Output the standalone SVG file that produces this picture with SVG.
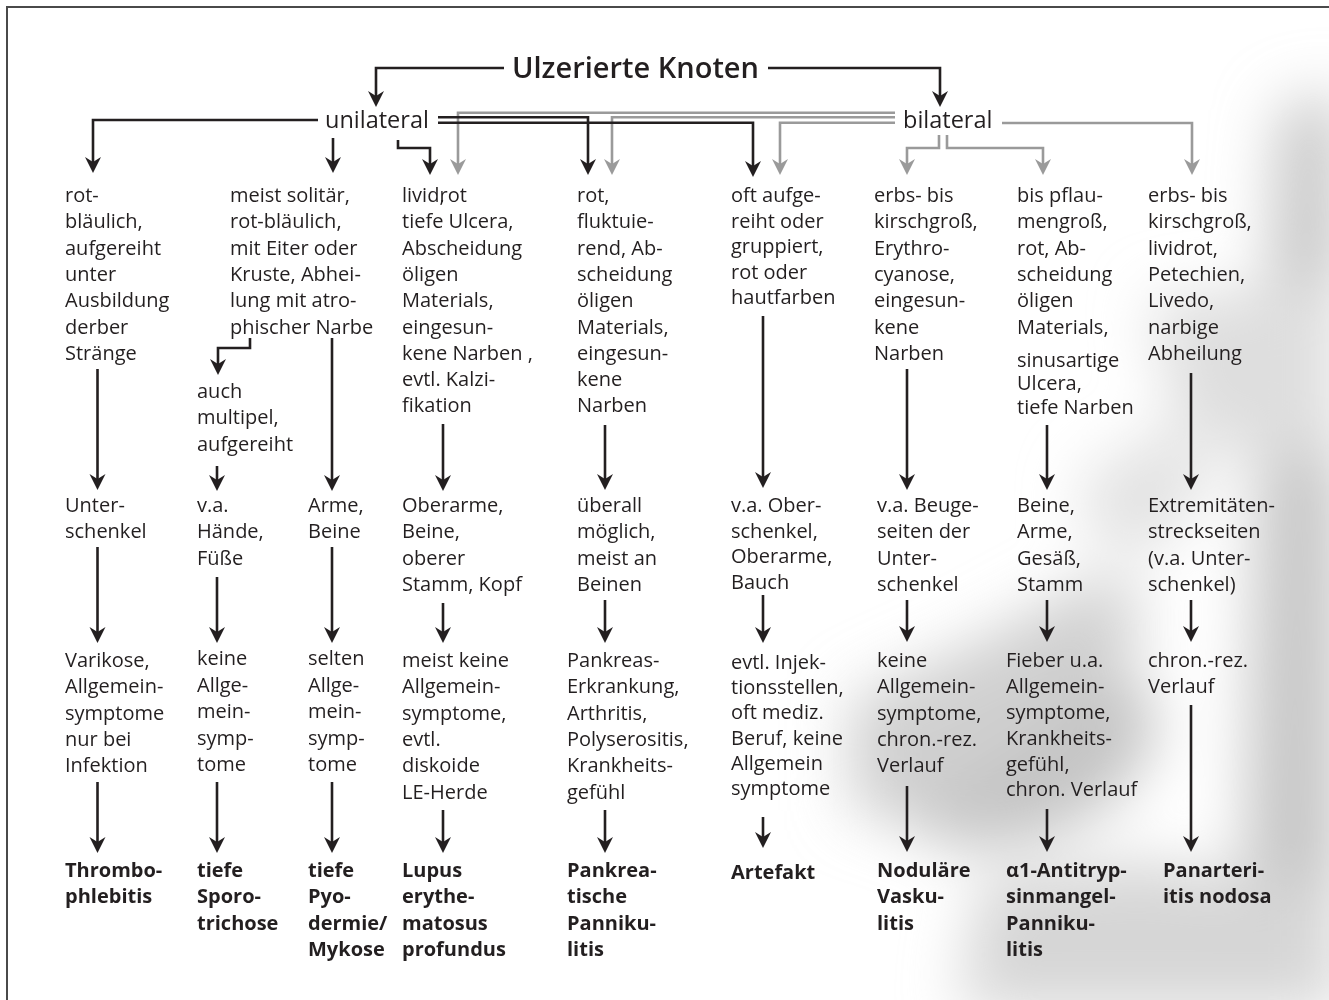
<svg xmlns="http://www.w3.org/2000/svg" width="1329" height="1000" viewBox="0 0 1329 1000">
<style>
.t{font-family:"Open Sans","Liberation Sans",sans-serif;font-size:20px;fill:#231f20}
.b{font-weight:bold}
.h{font-size:29px;font-weight:600}
.m{font-size:23.5px}
.k{fill:none;stroke:#231f20;stroke-width:2.6}
.g{fill:none;stroke:#9a9a9a;stroke-width:2.6}
</style>
<defs>
<marker id="ak" markerUnits="userSpaceOnUse" viewBox="-8 -10 20 20" refX="0" refY="0" markerWidth="20" markerHeight="20" orient="auto" overflow="visible">
<path d="M10,0 L-6,-8 L-1,0 L-6,8 Z" fill="#231f20"/>
</marker>
<marker id="ag" markerUnits="userSpaceOnUse" viewBox="-8 -10 20 20" refX="0" refY="0" markerWidth="20" markerHeight="20" orient="auto" overflow="visible">
<path d="M10,0 L-6,-8 L-1,0 L-6,8 Z" fill="#9a9a9a"/>
</marker>
<filter id="blur" x="-50%" y="-50%" width="200%" height="200%"><feGaussianBlur stdDeviation="30"/></filter>
</defs>
<rect width="1329" height="1000" fill="#ffffff"/>
<g id="shadow" filter="url(#blur)">
<polygon points="1280,110 1340,90 1340,1010 1240,1010 1250,700 1262,400" fill="#c6c6c6"/>
<polygon points="1150,300 1340,280 1340,460 1180,440" fill="#dedede"/>
<ellipse cx="1020" cy="750" rx="140" ry="90" fill="#c4c4c4" transform="rotate(-20 1020 750)"/>
<polygon points="850,700 960,650 1110,570 1150,620 1060,720 900,820 850,810" fill="#d0d0d0"/>
<polygon points="1080,480 1160,430 1220,470 1150,560 1090,540" fill="#e2e2e2"/>
<polygon points="980,880 1140,860 1340,890 1340,1010 960,1010" fill="#d6d6d6"/>
</g>
<path d="M7,1000 V7 H1329" fill="none" stroke="#4a4a4a" stroke-width="2"/>

<g id="connectors">
<g class="k">
<path d="M504,68 H376 V97" marker-end="url(#ak)"/>
<path d="M768,68 H940 V97" marker-end="url(#ak)"/>
<path d="M318,120 H93 V163" marker-end="url(#ak)"/>
<path d="M333,138 V163" marker-end="url(#ak)"/>
<path d="M398,140 V148 H430 V165" marker-end="url(#ak)"/>
</g>
<g class="g">
<path d="M895,112.7 H458 V165" marker-end="url(#ag)"/>
<path d="M895,117.3 H612 V165" marker-end="url(#ag)"/>
<path d="M895,122.7 H780 V165" marker-end="url(#ag)"/>
<path d="M1002,123 H1192 V165" marker-end="url(#ag)"/>
<path d="M939,135 V148 H907 V165" marker-end="url(#ag)"/>
<path d="M947,135 V148 H1043 V165" marker-end="url(#ag)"/>
</g>
<g class="k">
<path d="M438,117.3 H588 V165" marker-end="url(#ak)"/>
<path d="M438,122.7 H753 V167" marker-end="url(#ak)"/>
<path d="M97.5,369 V480" marker-end="url(#ak)"/>
<path d="M97.5,547 V633" marker-end="url(#ak)"/>
<path d="M97.5,782 V843" marker-end="url(#ak)"/>
<path d="M250,338 V348 H218 V365" marker-end="url(#ak)"/>
<path d="M217,466 V481" marker-end="url(#ak)"/>
<path d="M217,577 V633" marker-end="url(#ak)"/>
<path d="M217,782 V843" marker-end="url(#ak)"/>
<path d="M332,338 V481" marker-end="url(#ak)"/>
<path d="M332,547 V633" marker-end="url(#ak)"/>
<path d="M332,782 V843" marker-end="url(#ak)"/>
<path d="M443,424 V481" marker-end="url(#ak)"/>
<path d="M443,603 V633" marker-end="url(#ak)"/>
<path d="M443,810 V843" marker-end="url(#ak)"/>
<path d="M605,425 V480" marker-end="url(#ak)"/>
<path d="M605,600 V633" marker-end="url(#ak)"/>
<path d="M605,810 V843" marker-end="url(#ak)"/>
<path d="M763,316 V478" marker-end="url(#ak)"/>
<path d="M763,595 V633" marker-end="url(#ak)"/>
<path d="M763,817 V838" marker-end="url(#ak)"/>
<path d="M907,369 V480" marker-end="url(#ak)"/>
<path d="M907,600 V632" marker-end="url(#ak)"/>
<path d="M907,786 V842" marker-end="url(#ak)"/>
<path d="M1047,425 V480" marker-end="url(#ak)"/>
<path d="M1047,600 V632" marker-end="url(#ak)"/>
<path d="M1047,809 V842" marker-end="url(#ak)"/>
<path d="M1191,373 V480" marker-end="url(#ak)"/>
<path d="M1191,600 V632" marker-end="url(#ak)"/>
<path d="M1191,705 V842" marker-end="url(#ak)"/>
</g>
</g>

<g id="title"><text class="t h" x="512" y="78">Ulzerierte Knoten</text></g>
<g id="unilateral"><text class="t m" x="325" y="128">unilateral</text></g>
<g id="bilateral"><text class="t m" x="903" y="128">bilateral</text></g>

<g id="c1r1"><text class="t" x="65" y="202"><tspan x="65">rot-</tspan><tspan x="65" dy="26.3">bläulich,</tspan><tspan x="65" dy="26.3">aufgereiht</tspan><tspan x="65" dy="26.3">unter</tspan><tspan x="65" dy="26.3">Ausbildung</tspan><tspan x="65" dy="26.3">derber</tspan><tspan x="65" dy="26.3">Stränge</tspan></text></g>
<g id="c2r1"><text class="t" x="230" y="202"><tspan x="230">meist solitär,</tspan><tspan x="230" dy="26.3">rot-bläulich,</tspan><tspan x="230" dy="26.3">mit Eiter oder</tspan><tspan x="230" dy="26.3">Kruste, Abhei-</tspan><tspan x="230" dy="26.3">lung mit atro-</tspan><tspan x="230" dy="26.3">phischer Narbe</tspan></text></g>
<g id="c2a"><text class="t" x="197" y="398"><tspan x="197">auch</tspan><tspan x="197" dy="26.3">multipel,</tspan><tspan x="197" dy="26.3">aufgereiht</tspan></text></g>
<g id="c4r1"><text class="t" x="402" y="202"><tspan x="402">livid</tspan><tspan>,</tspan><tspan dx="-5">rot</tspan><tspan x="402" dy="26.3">tiefe Ulcera,</tspan><tspan x="402" dy="26.3">Abscheidung</tspan><tspan x="402" dy="26.3">öligen</tspan><tspan x="402" dy="26.3">Materials,</tspan><tspan x="402" dy="26.3">eingesun-</tspan><tspan x="402" dy="26.3">kene Narben ,</tspan><tspan x="402" dy="26.3">evtl. Kalzi-</tspan><tspan x="402" dy="26.3">fikation</tspan></text></g>
<g id="c5r1"><text class="t" x="577" y="202"><tspan x="577">rot,</tspan><tspan x="577" dy="26.3">fluktuie-</tspan><tspan x="577" dy="26.3">rend, Ab-</tspan><tspan x="577" dy="26.3">scheidung</tspan><tspan x="577" dy="26.3">öligen</tspan><tspan x="577" dy="26.3">Materials,</tspan><tspan x="577" dy="26.3">eingesun-</tspan><tspan x="577" dy="26.3">kene</tspan><tspan x="577" dy="26.3">Narben</tspan></text></g>
<g id="c6r1"><text class="t" x="731" y="202"><tspan x="731">oft aufge-</tspan><tspan x="731" dy="25.5">reiht oder</tspan><tspan x="731" dy="25.5">gruppiert,</tspan><tspan x="731" dy="25.5">rot oder</tspan><tspan x="731" dy="25.5">hautfarben</tspan></text></g>
<g id="c7r1"><text class="t" x="874" y="202"><tspan x="874">erbs- bis</tspan><tspan x="874" dy="26.3">kirschgroß,</tspan><tspan x="874" dy="26.3">Erythro-</tspan><tspan x="874" dy="26.3">cyanose,</tspan><tspan x="874" dy="26.3">eingesun-</tspan><tspan x="874" dy="26.3">kene</tspan><tspan x="874" dy="26.3">Narben</tspan></text></g>
<g id="c8r1"><text class="t" x="1017" y="202"><tspan x="1017">bis pflau-</tspan><tspan x="1017" dy="26.3">mengroß,</tspan><tspan x="1017" dy="26.3">rot, Ab-</tspan><tspan x="1017" dy="26.3">scheidung</tspan><tspan x="1017" dy="26.3">öligen</tspan><tspan x="1017" dy="26.3">Materials,</tspan><tspan x="1017" y="367">sinusartige</tspan><tspan x="1017" y="390">Ulcera,</tspan><tspan x="1017" y="414">tiefe Narben</tspan></text></g>
<g id="c9r1"><text class="t" x="1148" y="202"><tspan x="1148">erbs- bis</tspan><tspan x="1148" dy="26.3">kirschgroß,</tspan><tspan x="1148" dy="26.3">lividrot,</tspan><tspan x="1148" dy="26.3">Petechien,</tspan><tspan x="1148" dy="26.3">Livedo,</tspan><tspan x="1148" dy="26.3">narbige</tspan><tspan x="1148" dy="26.3">Abheilung</tspan></text></g>

<g id="c1r2"><text class="t" x="65" y="512"><tspan x="65">Unter-</tspan><tspan x="65" dy="26.3">schenkel</tspan></text></g>
<g id="c2r2"><text class="t" x="197" y="512"><tspan x="197">v.a.</tspan><tspan x="197" dy="26.3">Hände,</tspan><tspan x="197" dy="26.3">Füße</tspan></text></g>
<g id="c3r2"><text class="t" x="308" y="512"><tspan x="308">Arme,</tspan><tspan x="308" dy="26.3">Beine</tspan></text></g>
<g id="c4r2"><text class="t" x="402" y="512"><tspan x="402">Oberarme,</tspan><tspan x="402" dy="26.3">Beine,</tspan><tspan x="402" dy="26.3">oberer</tspan><tspan x="402" dy="26.3">Stamm, Kopf</tspan></text></g>
<g id="c5r2"><text class="t" x="577" y="512"><tspan x="577">überall</tspan><tspan x="577" dy="26.3">möglich,</tspan><tspan x="577" dy="26.3">meist an</tspan><tspan x="577" dy="26.3">Beinen</tspan></text></g>
<g id="c6r2"><text class="t" x="731" y="512"><tspan x="731">v.a. Ober-</tspan><tspan x="731" dy="25.5">schenkel,</tspan><tspan x="731" dy="25.5">Oberarme,</tspan><tspan x="731" dy="25.5">Bauch</tspan></text></g>
<g id="c7r2"><text class="t" x="877" y="512"><tspan x="877">v.a. Beuge-</tspan><tspan x="877" dy="26.3">seiten der</tspan><tspan x="877" dy="26.3">Unter-</tspan><tspan x="877" dy="26.3">schenkel</tspan></text></g>
<g id="c8r2"><text class="t" x="1017" y="512"><tspan x="1017">Beine,</tspan><tspan x="1017" dy="26.3">Arme,</tspan><tspan x="1017" dy="26.3">Gesäß,</tspan><tspan x="1017" dy="26.3">Stamm</tspan></text></g>
<g id="c9r2"><text class="t" x="1148" y="512"><tspan x="1148">Extremitäten-</tspan><tspan x="1148" dy="26.3">streckseiten</tspan><tspan x="1148" dy="26.3">(v.a. Unter-</tspan><tspan x="1148" dy="26.3">schenkel)</tspan></text></g>

<g id="c1r3"><text class="t" x="65" y="667"><tspan x="65">Varikose,</tspan><tspan x="65" dy="26.3">Allgemein-</tspan><tspan x="65" dy="26.3">symptome</tspan><tspan x="65" dy="26.3">nur bei</tspan><tspan x="65" dy="26.3">Infektion</tspan></text></g>
<g id="c2r3"><text class="t" x="197" y="665"><tspan x="197">keine</tspan><tspan x="197" dy="26.5">Allge-</tspan><tspan x="197" dy="26.5">mein-</tspan><tspan x="197" dy="26.5">symp-</tspan><tspan x="197" dy="26.5">tome</tspan></text></g>
<g id="c3r3"><text class="t" x="308" y="665"><tspan x="308">selten</tspan><tspan x="308" dy="26.5">Allge-</tspan><tspan x="308" dy="26.5">mein-</tspan><tspan x="308" dy="26.5">symp-</tspan><tspan x="308" dy="26.5">tome</tspan></text></g>
<g id="c4r3"><text class="t" x="402" y="667"><tspan x="402">meist keine</tspan><tspan x="402" dy="26.3">Allgemein-</tspan><tspan x="402" dy="26.3">symptome,</tspan><tspan x="402" dy="26.3">evtl.</tspan><tspan x="402" dy="26.3">diskoide</tspan><tspan x="402" dy="26.3">LE-Herde</tspan></text></g>
<g id="c5r3"><text class="t" x="567" y="667"><tspan x="567">Pankreas-</tspan><tspan x="567" dy="26.3">Erkrankung,</tspan><tspan x="567" dy="26.3">Arthritis,</tspan><tspan x="567" dy="26.3">Polyserositis,</tspan><tspan x="567" dy="26.3">Krankheits-</tspan><tspan x="567" dy="26.3">gefühl</tspan></text></g>
<g id="c6r3"><text class="t" x="731" y="669"><tspan x="731">evtl. Injek-</tspan><tspan x="731" dy="25.2">tionsstellen,</tspan><tspan x="731" dy="25.2">oft mediz.</tspan><tspan x="731" dy="25.2">Beruf, keine</tspan><tspan x="731" dy="25.2">Allgemein</tspan><tspan x="731" dy="25.2">symptome</tspan></text></g>
<g id="c7r3"><text class="t" x="877" y="667"><tspan x="877">keine</tspan><tspan x="877" dy="26.3">Allgemein-</tspan><tspan x="877" dy="26.3">symptome,</tspan><tspan x="877" dy="26.3">chron.-rez.</tspan><tspan x="877" dy="26.3">Verlauf</tspan></text></g>
<g id="c8r3"><text class="t" x="1006" y="667"><tspan x="1006">Fieber u.a.</tspan><tspan x="1006" dy="26">Allgemein-</tspan><tspan x="1006" dy="26">symptome,</tspan><tspan x="1006" dy="26">Krankheits-</tspan><tspan x="1006" dy="26">gefühl,</tspan><tspan x="1006" dy="25">chron. Verlauf</tspan></text></g>
<g id="c9r3"><text class="t" x="1148" y="667"><tspan x="1148">chron.-rez.</tspan><tspan x="1148" dy="26.3">Verlauf</tspan></text></g>

<g id="d1"><text class="t b" x="65" y="877"><tspan x="65">Thrombo-</tspan><tspan x="65" dy="26.3">phlebitis</tspan></text></g>
<g id="d2"><text class="t b" x="197" y="877"><tspan x="197">tiefe</tspan><tspan x="197" dy="26.3">Sporo-</tspan><tspan x="197" dy="26.3">trichose</tspan></text></g>
<g id="d3"><text class="t b" x="308" y="877"><tspan x="308">tiefe</tspan><tspan x="308" dy="26.3">Pyo-</tspan><tspan x="308" dy="26.3">dermie/</tspan><tspan x="308" dy="26.3">Mykose</tspan></text></g>
<g id="d4"><text class="t b" x="402" y="877"><tspan x="402">Lupus</tspan><tspan x="402" dy="26.3">erythe-</tspan><tspan x="402" dy="26.3">matosus</tspan><tspan x="402" dy="26.3">profundus</tspan></text></g>
<g id="d5"><text class="t b" x="567" y="877"><tspan x="567">Pankrea-</tspan><tspan x="567" dy="26.3">tische</tspan><tspan x="567" dy="26.3">Panniku-</tspan><tspan x="567" dy="26.3">litis</tspan></text></g>
<g id="d6"><text class="t b" x="731" y="879">Artefakt</text></g>
<g id="d7"><text class="t b" x="877" y="877"><tspan x="877">Noduläre</tspan><tspan x="877" dy="26.3">Vasku-</tspan><tspan x="877" dy="26.3">litis</tspan></text></g>
<g id="d8"><text class="t b" x="1006" y="877"><tspan x="1006">α1-Antitryp-</tspan><tspan x="1006" dy="26.3">sinmangel-</tspan><tspan x="1006" dy="26.3">Panniku-</tspan><tspan x="1006" dy="26.3">litis</tspan></text></g>
<g id="d9"><text class="t b" x="1163" y="877"><tspan x="1163">Panarteri-</tspan><tspan x="1163" dy="26.3">itis nodosa</tspan></text></g>
</svg>
